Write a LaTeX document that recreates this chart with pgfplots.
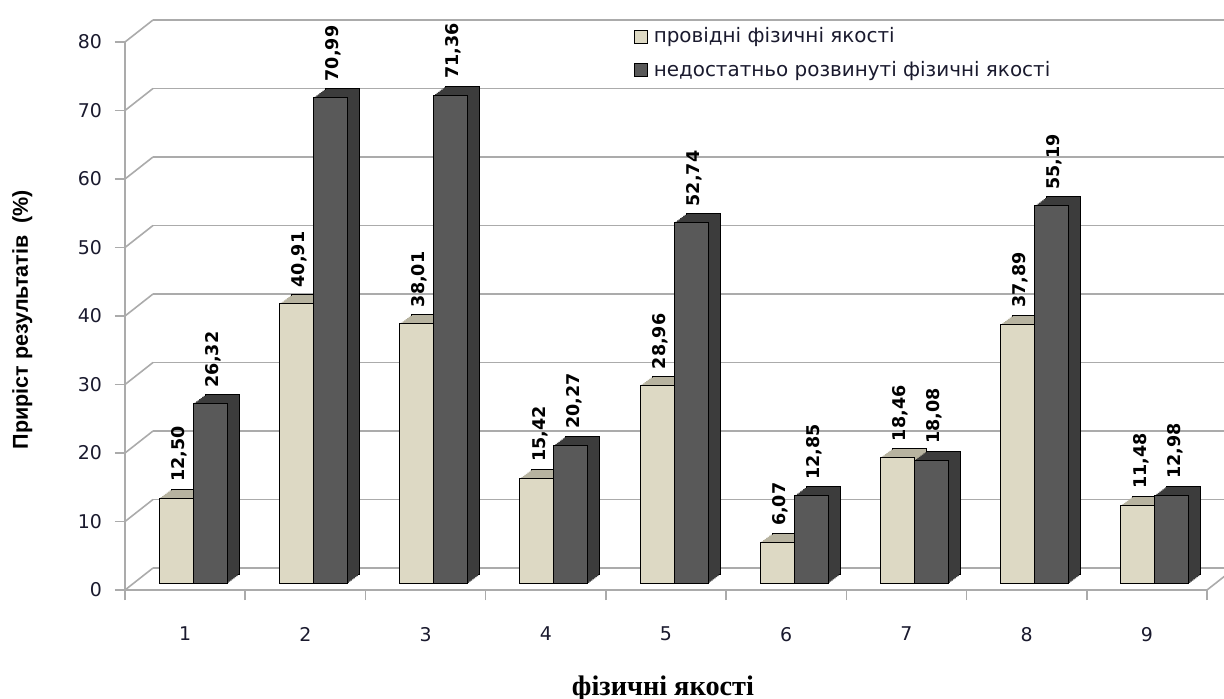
\documentclass[border=0pt]{standalone}
\usepackage{fontspec}
\setmainfont{DejaVu Sans}
\newfontfamily\argfont{Liberation Sans}
\newfontfamily\serfont{Liberation Serif}
\usepackage{pgfplots}
\usepackage{pgfplotstable}
\pgfplotsset{compat=1.18}
\definecolor{lightbar}{HTML}{DDD9C4}
\definecolor{lighttop}{HTML}{B7B3A0}
\definecolor{darkbar}{HTML}{595959}
\definecolor{darkside}{HTML}{3C3C3C}
\definecolor{gridc}{HTML}{ABABAB}
\definecolor{txt}{HTML}{1A1A2E}

\pgfplotstableread{
x a b
1 12.50 26.32
2 40.91 70.99
3 38.01 71.36
4 15.42 20.27
5 28.96 52.74
6 6.07 12.85
7 18.46 18.08
8 37.89 55.19
9 11.48 12.98
}\data

\pgfplotsset{base/.style={scale only axis, width=541bp, height=274bp,
  xmin=0.5, xmax=9.5, ymin=0, ymax=80, anchor=south west},
  barax/.style={base, hide axis, clip=false, ybar=0pt, bar width=17bp}}

\begin{document}
\begin{tikzpicture}
\fill[white] (0,0) rectangle (612bp,349.5bp);
\useasboundingbox (0,0) rectangle (612bp,349.5bp);

% back wall
\begin{axis}[base, at={(76.5bp,65.5bp)}, hide axis, clip=false]
\pgfplotsinvokeforeach{0,10,...,80}{
  \draw[gridc, line width=0.8bp] (axis cs:0.5,#1) -- (axis cs:9.5,#1);
}
\end{axis}

% depth of the bars (back faces, then intermediate copies)
\begin{axis}[barax, at={(72.5bp,62bp)}]
\addplot[fill=lighttop, draw=black, line width=0.5bp] table[x=x, y=a] {\data};
\addplot[fill=darkside, draw=black, line width=0.5bp] table[x=x, y=b] {\data};
\end{axis}
\foreach \k in {7,6,...,1}{
\begin{axis}[barax, at={({66.5bp+0.75bp*\k},{57.5bp+0.5625bp*\k})}]
\addplot[fill=lighttop, draw=none] table[x=x, y=a] {\data};
\addplot[fill=darkside, draw=none] table[x=x, y=b] {\data};
\end{axis}
}

% front bars
\begin{axis}[barax, at={(66.5bp,57.5bp)},
  nodes near coords,
  /pgf/number format/.cd, fixed, fixed zerofill, precision=2, use comma, assume math mode=true,
  /pgfplots/.cd,
  every node near coord/.append style={font=\bfseries\fontsize{8.8}{10}\selectfont, text=black,
     xshift=1.5bp, yshift=7bp, rotate=90, anchor=west, inner sep=1bp}]
\addplot[fill=lightbar, draw=black, line width=0.5bp] table[x=x, y=a] {\data};
\addplot[fill=darkbar, draw=black, line width=0.5bp] table[x=x, y=b] {\data};
\end{axis}

% front axis
\begin{axis}[base, at={(62.5bp,54.5bp)}, clip=false,
  axis x line*=bottom, axis y line*=left,
  axis line style={gridc, line width=0.8bp},
  tick align=outside,
  xtick={1,...,9}, major x tick style={draw=none},
  minor xtick={0.5,1.5,...,9.5}, minor tick length=5bp,
  ytick={0,10,...,80}, major tick length=5bp,
  tick style={gridc, line width=0.8bp},
  /pgf/number format/assume math mode=true,
  ticklabel style={font=\fontsize{9.5}{11}\selectfont, text=txt},
  xticklabel style={yshift=-10bp},
  yticklabel style={xshift=-3bp},
  ylabel={Приріст результатів\ \ (\%)},
  every axis y label/.style={at={(axis description cs:-0.095,0.493)}, rotate=90, anchor=center,
     font=\argfont\bfseries\fontsize{10.8}{12}\selectfont},
  xlabel={фізичні якості},
  every axis x label/.style={at={(axis description cs:0.4972,-0.1916)}, anchor=base,
     font=\serfont\bfseries\fontsize{14.2}{16}\selectfont},
  legend image code/.code={\draw[#1, line width=0.5bp] (0bp,-3.1bp) rectangle (6.2bp,3.1bp); \path (7.2bp,0bp);},
  legend cell align=left,
  legend style={at={(axis description cs:0.4705,1.034)}, anchor=north west, draw=none, fill=none,
     font=\fontsize{10}{11}\selectfont, row sep=3.5bp, text=txt, inner sep=0pt,
     nodes={inner sep=2bp}},
]
\addlegendimage{fill=lightbar, draw=black}
\addlegendentry{провідні фізичні якості}
\addlegendimage{fill=darkbar, draw=black}
\addlegendentry{недостатньо розвинуті фізичні якості}
\pgfplotsinvokeforeach{0,10,...,80}{
  \draw[gridc, line width=0.8bp] (axis cs:0.5,#1) -- ++(14bp,11bp);
}
\draw[gridc, line width=0.8bp] (axis cs:9.5,0) -- ++(14bp,11bp);
\end{axis}
\end{tikzpicture}
\end{document}
